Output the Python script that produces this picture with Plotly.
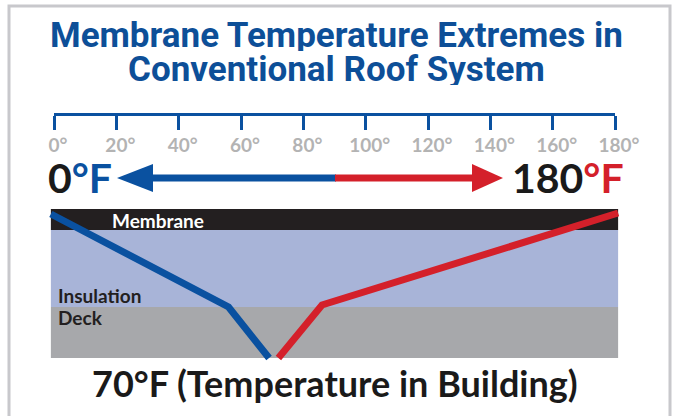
import plotly.graph_objects as go

W, H = 673, 416

# ---------------- data ----------------
tick_vals = [0, 20, 40, 60, 80, 100, 120, 140, 160, 180]
tick_text = [f"{v}°" for v in tick_vals]

layer_names = ["Membrane", "Insulation", "Deck"]
layer_top = [0, 21, 98]        # depth units below membrane surface
layer_bottom = [21, 98, 149]
layer_colors = ["#231f20", "#a8b4d8", "#a7a8ab"]
layer_extent = [-1, 181]        # temperature span covered by the layer bands

cold_temp = [-1, 56, 69]        # winter profile (°F)
cold_depth = [5, 98, 149]
hot_temp = [72, 86, 181]        # summer profile (°F)
hot_depth = [149, 96, 4]

BLUE = "#0a51a0"
RED = "#d4202a"
TITLE_BLUE = "#0d4f98"
GRAY_TXT = "#b3b3b3"
FRAME = "#c8c8cc"

BODY = "Lato, 'Open Sans', sans-serif"
COND = "Roboto, 'Liberation Sans', sans-serif"

# pixel calibration of the figure
X0_PX, X180_PX = 54, 615
PPD = (X180_PX - X0_PX) / 180.0
DEPTH0_PX = 209

def px(x):
    return x / W

def py(y):
    return 1 - y / H

fig = go.Figure()

# profile lines
fig.add_trace(go.Scatter(x=cold_temp, y=cold_depth, mode="lines",
                         line=dict(color=BLUE, width=7), hoverinfo="skip",
                         showlegend=False))
fig.add_trace(go.Scatter(x=hot_temp, y=hot_depth, mode="lines",
                         line=dict(color=RED, width=7), hoverinfo="skip",
                         showlegend=False))
# invisible trace so the temperature ruler axis is drawn
fig.add_trace(go.Scatter(x=[tick_vals[0], tick_vals[-1]], y=[0.5, 0.5], mode="markers",
                         marker=dict(opacity=0), xaxis="x2", yaxis="y2",
                         hoverinfo="skip", showlegend=False))

shapes = []
# layer bands
for top, bot, col in zip(layer_top, layer_bottom, layer_colors):
    shapes.append(dict(type="rect", xref="x", yref="y",
                       x0=layer_extent[0], x1=layer_extent[1], y0=top, y1=bot,
                       fillcolor=col, line=dict(width=0), layer="below"))

# frame
shapes.append(dict(type="path", xref="paper", yref="paper",
                   path=f"M {px(9)},{py(420)} L {px(9)},{py(6)} L {px(670)},{py(6)} L {px(670)},{py(420)}",
                   line=dict(color=FRAME, width=3)))

# double arrow
ay = 178
shapes.append(dict(type="line", xref="paper", yref="paper",
                   x0=px(150), x1=px(336), y0=py(ay), y1=py(ay),
                   line=dict(color=BLUE, width=7)))
shapes.append(dict(type="line", xref="paper", yref="paper",
                   x0=px(335), x1=px(476), y0=py(ay), y1=py(ay),
                   line=dict(color=RED, width=7)))
shapes.append(dict(type="path", xref="paper", yref="paper",
                   path=f"M {px(117)},{py(ay)} L {px(153)},{py(164)} L {px(153)},{py(192)} Z",
                   fillcolor=BLUE, line=dict(width=0)))
shapes.append(dict(type="path", xref="paper", yref="paper",
                   path=f"M {px(503)},{py(ay)} L {px(472)},{py(164)} L {px(472)},{py(192)} Z",
                   fillcolor=RED, line=dict(width=0)))

annotations = []
def ann(text, x, y, size, color, family=BODY, xanchor="center", yanchor="middle", height=None):
    d = dict(text=text, x=px(x), y=py(y), xref="paper", yref="paper",
             showarrow=False, xanchor=xanchor, yanchor=yanchor,
             font=dict(family=family, size=size, color=color, weight="bold"))
    if height:
        d["height"] = height
    annotations.append(d)

ann("Membrane Temperature Extremes in", 336, 35, 35, TITLE_BLUE, COND, height=32)
ann("Conventional Roof System", 336, 69, 35, TITLE_BLUE, COND, height=32)

ann(f"0<span style='color:{BLUE}'>°F</span>", 46, 177, 41, "#1a1a1a", xanchor="left", height=32)
ann(f"180<span style='color:{RED}'>°F</span>", 510, 177, 41, "#1a1a1a", xanchor="left", height=32)

ann(layer_names[0], 110, 220, 19, "white", xanchor="left")
ann(layer_names[1], 56, 295, 19, "#231f20", xanchor="left")
ann(layer_names[2], 56, 317, 19, "#231f20", xanchor="left")

ann("70°F (Temperature in Building)", 335, 383, 36, "#1a1a1a")

x_lo = -X0_PX / PPD
x_hi = (W - X0_PX) / PPD

fig.update_layout(
    width=W, height=H, autosize=False,
    margin=dict(l=0, r=0, t=0, b=0, pad=0, autoexpand=False),
    paper_bgcolor="white", plot_bgcolor="white",
    shapes=shapes, annotations=annotations,
    xaxis=dict(range=[x_lo, x_hi], visible=False, domain=[0, 1], automargin=False),
    yaxis=dict(range=[H - DEPTH0_PX, -DEPTH0_PX], visible=False, domain=[0, 1], automargin=False),
    xaxis2=dict(range=[0, 180], domain=[px(X0_PX), px(X180_PX)], anchor="y2",
                showline=True, linecolor=BLUE, linewidth=3, automargin=False,
                ticks="outside", ticklen=14, tickwidth=3, tickcolor=BLUE,
                tickvals=tick_vals, ticktext=tick_text, ticklabelshift=4,
                ticklabelstandoff=-1,
                tickfont=dict(family=BODY, size=19, color=GRAY_TXT, weight="bold"),
                showgrid=False, zeroline=False, fixedrange=True),
    yaxis2=dict(domain=[py(113), py(100)], anchor="x2", visible=False, range=[0, 1],
                automargin=False),
    showlegend=False,
)

fig.write_html("out.html", post_script="document.body.style.margin='0';",
               config={"displayModeBar": False})
